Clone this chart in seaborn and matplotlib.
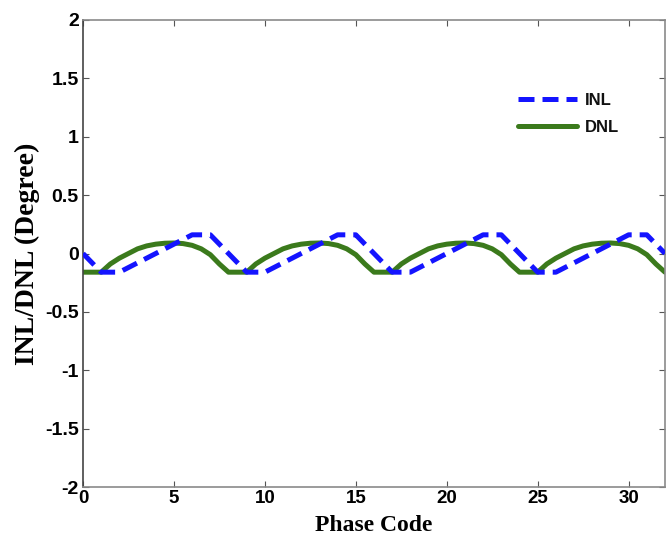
import matplotlib
matplotlib.use("Agg")
import matplotlib.pyplot as plt
import seaborn as sns
import pandas as pd
import numpy as np

# ---- data ----
inl_codes = list(range(0, 33))
inl_values = [0.0, -0.16, -0.16, -0.08, 0.0, 0.08, 0.16, 0.16,
              0.0, -0.16, -0.16, -0.08, 0.0, 0.08, 0.16, 0.16,
              0.0, -0.16, -0.16, -0.08, 0.0, 0.08, 0.16, 0.16,
              0.0, -0.16, -0.16, -0.08, 0.0, 0.08, 0.16, 0.16,
              0.0]

dnl_codes = [i * 0.5 for i in range(0, 65)]
dnl_values = [-0.16, -0.16, -0.16, -0.09, -0.04, 0.0, 0.04, 0.065, 0.08, 0.088, 0.09, 0.085, 0.07, 0.04, -0.01, -0.09,
              -0.16, -0.16, -0.16, -0.09, -0.04, 0.0, 0.04, 0.065, 0.08, 0.088, 0.09, 0.085, 0.07, 0.04, -0.01, -0.09,
              -0.16, -0.16, -0.16, -0.09, -0.04, 0.0, 0.04, 0.065, 0.08, 0.088, 0.09, 0.085, 0.07, 0.04, -0.01, -0.09,
              -0.16, -0.16, -0.16, -0.09, -0.04, 0.0, 0.04, 0.065, 0.08, 0.088, 0.09, 0.085, 0.07, 0.04, -0.01, -0.09,
              -0.16]

x_ticks = [0, 5, 10, 15, 20, 25, 30]
y_ticks = [-2, -1.5, -1, -0.5, 0, 0.5, 1, 1.5, 2]
y_tick_labels = ["-2", "-1.5", "-1", "-0.5", "0", "0.5", "1", "1.5", "2"]

sns.set_theme(style="white")
plt.rcParams["font.family"] = ["Liberation Sans", "DejaVu Sans"]

fig = plt.figure(figsize=(6.67, 5.54), dpi=100)
ax = fig.add_axes([83 / 667, (554 - 487) / 554, (665 - 83) / 667, (487 - 20) / 554])

df_inl = pd.DataFrame({"code": inl_codes, "val": inl_values})
df_dnl = pd.DataFrame({"code": dnl_codes, "val": dnl_values})

sns.lineplot(data=df_inl, x="code", y="val", ax=ax, color="#1414ff", linewidth=3.6,
             label="INL", zorder=3)
sns.lineplot(data=df_dnl, x="code", y="val", ax=ax, color="#3b7a1c", linewidth=3.6,
             label="DNL", zorder=2)
ax.lines[0].set_dashes([3.2, 1.6])
ax.lines[0].set_dash_capstyle("butt")
ax.lines[0].set_solid_joinstyle("round")
ax.lines[1].set_solid_joinstyle("round")

ax.set_xlim(0, 32)
ax.set_ylim(-2, 2)
ax.set_xticks(x_ticks)
ax.set_yticks(y_ticks)
ax.set_yticklabels(y_tick_labels)

for lab in ax.get_xticklabels():
    lab.set_fontweight("bold")
    lab.set_fontsize(13.5)
for lab in ax.get_yticklabels():
    lab.set_fontweight("bold")
    lab.set_fontsize(14)

ax.tick_params(axis="both", which="both", direction="in", length=4, width=0.8,
               top=True, right=True, bottom=True, left=True, colors="#555555",
               labelcolor="black")
ax.tick_params(axis="x", pad=2)
ax.tick_params(axis="y", pad=3)

for side, sp in ax.spines.items():
    sp.set_visible(True)
    sp.set_linewidth(1.2)
    sp.set_color("#8a8a8a")
ax.spines["left"].set_color("#444444")

ax.set_xlabel("Phase Code", family=["Liberation Serif", "DejaVu Serif"],
              fontweight="bold", fontsize=17, labelpad=6, color="black")
ax.set_ylabel("INL/DNL (Degree)", family=["Liberation Serif", "DejaVu Serif"],
              fontweight="bold", fontsize=20, labelpad=4, color="black")

leg = ax.legend(loc="upper left", bbox_to_anchor=((510 - 83) / 582, (487 - 85) / 467),
                frameon=False, handlelength=3.5, handletextpad=0.5,
                borderpad=0, labelspacing=0.7,
                prop={"weight": "bold", "size": 12})
for t in leg.get_texts():
    t.set_color("#111111")

fig.savefig("out.png", dpi=100)
